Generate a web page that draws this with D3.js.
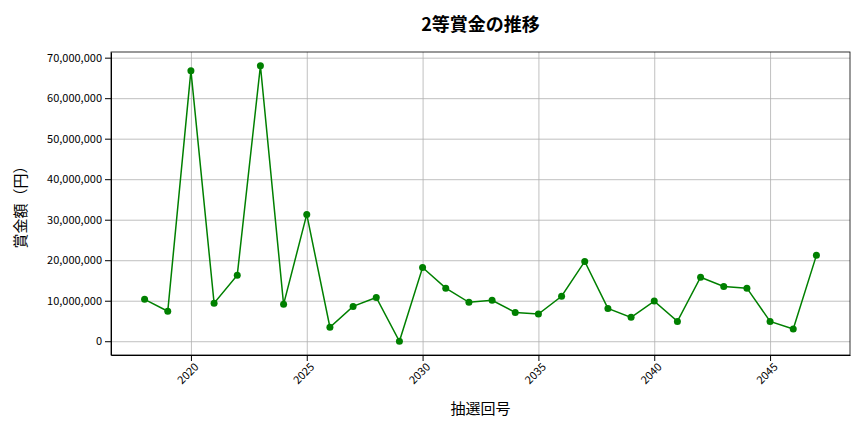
<!DOCTYPE html>
<html><head><meta charset="utf-8">
<script src="https://cdn.jsdelivr.net/npm/d3@7"></script>
<style>
body{margin:0;background:#fff;font-family:"Noto Sans CJK JP","Noto Sans",sans-serif}
.grid line{stroke:#b0b0b0;stroke-width:0.8}
.grid path{display:none}
.axis text{font-size:11px;fill:#000;font-family:"Noto Sans CJK JP","Noto Sans",sans-serif}
</style></head><body>
<svg id="chart" width="864" height="432"></svg>
<script>
const years = d3.range(2018, 2048);
const prizes = [10350000, 7400000, 66800000, 9400000, 16300000, 68000000, 9100000, 31300000,
  3450000, 8600000, 10800000, 0, 18200000, 13100000, 9600000, 10100000, 7100000, 6700000,
  11100000, 19700000, 8100000, 5900000, 9900000, 4900000, 15800000, 13500000, 13100000,
  4900000, 3000000, 21200000];
const xTicks = [2020, 2025, 2030, 2035, 2040, 2045];
const yTicks = d3.range(0, 70000001, 10000000);

const margin = {left: 111, right: 14, top: 52, bottom: 77};
const width = 864 - margin.left - margin.right;
const height = 432 - margin.top - margin.bottom;

const svg = d3.select("#chart");
const g = svg.append("g").attr("transform", `translate(${margin.left},${margin.top})`);

const x = d3.scaleLinear().domain([2016.55, 2048.45]).range([0, width]);
const y = d3.scaleLinear().domain([-3400000, 71400000]).range([height, 0]);

// grid
g.append("g").attr("class", "grid").attr("transform", `translate(0,${height})`)
  .call(d3.axisBottom(x).tickValues(xTicks).tickSize(-height).tickFormat(""));
g.append("g").attr("class", "grid")
  .call(d3.axisLeft(y).tickValues(yTicks).tickSize(-width).tickFormat(""));

// axes
const xa = g.append("g").attr("class", "axis").attr("transform", `translate(0,${height})`)
  .call(d3.axisBottom(x).tickValues(xTicks).tickFormat(d3.format("d")).tickSizeOuter(0));
xa.selectAll("text").attr("transform", "rotate(-45)").attr("text-anchor", "end")
  .attr("dx", "-0.3em").attr("dy", "0.5em");
g.append("g").attr("class", "axis")
  .call(d3.axisLeft(y).tickValues(yTicks).tickFormat(d3.format(",")).tickSizeOuter(0));

g.append("rect").attr("width", width).attr("height", height)
  .attr("fill", "none").attr("stroke", "#000").attr("stroke-width", 0.8);

// line
const line = d3.line().x((d, i) => x(years[i])).y(d => y(d));
g.append("path").datum(prizes).attr("d", line)
  .attr("fill", "none").attr("stroke", "green").attr("stroke-width", 1.5);
g.selectAll("circle").data(prizes).join("circle")
  .attr("cx", (d, i) => x(years[i])).attr("cy", d => y(d)).attr("r", 3.5).attr("fill", "green");

// labels
svg.append("text").attr("x", margin.left + width / 2).attr("y", 31).attr("text-anchor", "middle")
  .attr("font-size", 18).attr("font-weight", "bold").text("2等賞金の推移");
svg.append("text").attr("x", margin.left + width / 2).attr("y", 414).attr("text-anchor", "middle")
  .attr("font-size", 15).text("抽選回号");
svg.append("text").attr("transform", `translate(26,${margin.top + height / 2}) rotate(-90)`)
  .attr("text-anchor", "middle").attr("font-size", 15).text("賞金額（円）");
</script>
</body></html>
